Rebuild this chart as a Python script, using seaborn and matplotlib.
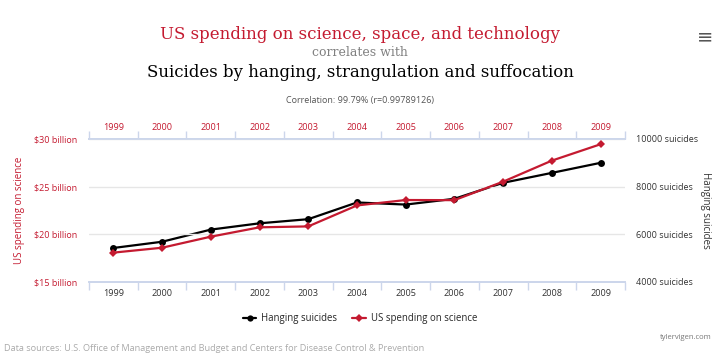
import seaborn as sns
import matplotlib.pyplot as plt
import matplotlib.ticker as mticker
from matplotlib.lines import Line2D
import pandas as pd

# values
years = [1999, 2000, 2001, 2002, 2003, 2004, 2005, 2006, 2007, 2008, 2009]
spending = [18.079, 18.594, 19.753, 20.734, 20.831, 23.029, 23.597, 23.584, 25.525, 27.731, 29.449]  # $ billion
hanging = [5427, 5688, 6198, 6462, 6635, 7336, 7248, 7491, 8161, 8578, 9000]
left_ticks = [15, 20, 25, 30]
right_ticks = [4000, 6000, 8000, 10000]

RED = '#c41a30'
DARK = '#333333'
AXIS = '#ccd6eb'

sns.set_theme(style='white')
plt.rcParams['font.family'] = ['Open Sans', 'DejaVu Sans']

df = pd.DataFrame({'Year': years, 'Spending': spending, 'Hanging': hanging})

fig = plt.figure(figsize=(7.2, 3.56), dpi=100)
ax = fig.add_axes([0.1236, 0.2079, 0.7444, 0.4017])
ax2 = ax.twinx()

sns.lineplot(x='Year', y='Hanging', data=df, ax=ax2, color='black', lw=1.6,
             marker='o', markersize=5, markeredgewidth=0)
sns.lineplot(x='Year', y='Spending', data=df, ax=ax, color=RED, lw=1.6,
             marker='D', markersize=3.6, markeredgewidth=0)
ax.set_zorder(ax2.get_zorder() + 1)
ax.patch.set_visible(False)

ax.set_xlim(1998.5, 2009.5)
ax.set_ylim(15, 30)
ax2.set_ylim(4000, 10000)

ax.set_yticks(left_ticks)
ax.set_yticklabels([f'${v} billion' for v in left_ticks], color=RED, fontsize=6.5)
ax2.set_yticks(right_ticks)
ax2.set_yticklabels([f'{v} suicides' for v in right_ticks], color=DARK, fontsize=6.5)
ax.tick_params(axis='y', length=0, pad=8.5)
ax2.tick_params(axis='y', length=0, pad=8)

ax.yaxis.grid(True, color='#e6e6e6', lw=1)
ax2.grid(False)

ax.set_xticks(years)
ax.set_xticklabels([str(y) for y in years], color=DARK, fontsize=6.6)
ax.xaxis.set_minor_locator(mticker.FixedLocator([y - 0.5 for y in years] + [2009.5]))
ax.tick_params(axis='x', which='major', length=0, pad=5, bottom=True)
ax.tick_params(axis='x', which='minor', length=6, color=AXIS, width=1, bottom=True)

top = ax.secondary_xaxis('top')
top.set_xticks(years)
top.set_xticklabels([str(y) for y in years], color=RED, fontsize=6.6)
top.xaxis.set_minor_locator(mticker.FixedLocator([y - 0.5 for y in years] + [2009.5]))
top.tick_params(axis='x', which='major', length=0, pad=5)
top.tick_params(axis='x', which='minor', length=6, color=AXIS, width=1)
top.spines['top'].set_color(AXIS)

for a in (ax, ax2):
    a.spines['left'].set_visible(False)
    a.spines['right'].set_visible(False)
    a.spines['bottom'].set_color(AXIS)
    a.spines['top'].set_color(AXIS)

ax.set_xlabel('')
ax.set_ylabel('US spending on science', color=RED, fontsize=7)
ax.yaxis.set_label_coords(-0.119, 0.5)
ax2.set_ylabel('Hanging suicides', color=DARK, fontsize=7, rotation=270, va='center')
ax2.yaxis.set_label_coords(1.151, 0.5)

# titles
serif = ['DejaVu Serif']
fig.text(0.5, 0.902, 'US spending on science, space, and technology', ha='center', va='center',
         color=RED, fontsize=12.0, family=serif)
fig.text(0.5, 0.853, 'correlates with', ha='center', va='center', color='#808080',
         fontsize=9.0, family=serif)
fig.text(0.5, 0.797, 'Suicides by hanging, strangulation and suffocation', ha='center', va='center',
         color='black', fontsize=11.9, family=serif)
fig.text(0.5, 0.719, 'Correlation: 99.79% (r=0.99789126)', ha='center', va='center',
         color='#555555', fontsize=6.5)
fig.text(0.979, 0.897, '\u2261', ha='center', va='center', color='#555555', fontsize=14,
         family=['DejaVu Sans'])

handles = [Line2D([], [], color='black', marker='o', markersize=4.5, lw=1.6, markeredgewidth=0),
           Line2D([], [], color=RED, marker='D', markersize=3.6, lw=1.6, markeredgewidth=0)]
fig.legend(handles, ['Hanging suicides', 'US spending on science'], loc='center',
           bbox_to_anchor=(0.5, 0.105), ncol=2, frameon=False, fontsize=6.9,
           handlelength=1.4, handletextpad=0.5, columnspacing=1.6)

fig.text(0.988, 0.053, 'tylervigen.com', ha='right', va='center', color='#777777', fontsize=5.5)
fig.text(0.006, 0.022, 'Data sources: U.S. Office of Management and Budget and Centers for Disease Control & Prevention',
         ha='left', va='center', color='#aaaaaa', fontsize=6.6)

fig.savefig('out.png', dpi=100)
